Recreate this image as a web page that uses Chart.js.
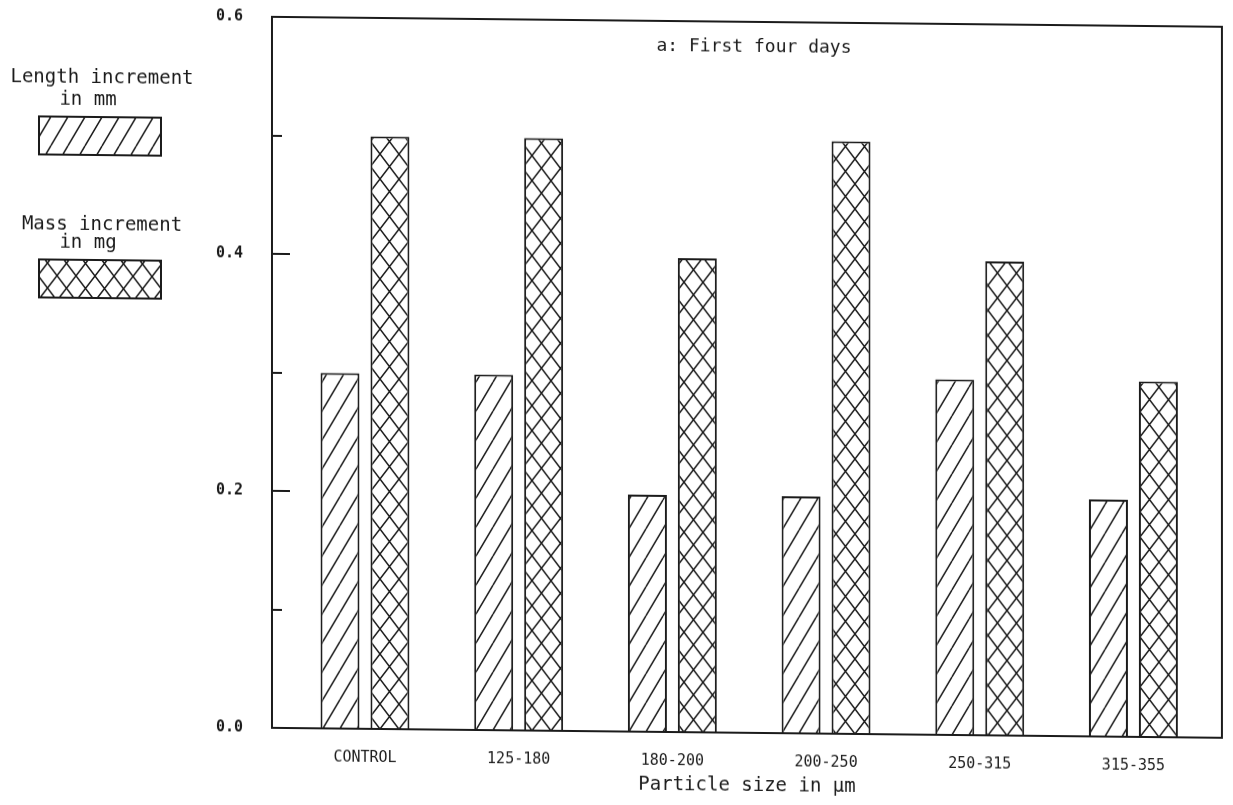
<!DOCTYPE html>
<html>
<head>
<meta charset="utf-8">
<title>Particle size</title>
<script src="https://cdn.jsdelivr.net/npm/chart.js@4.4.1/dist/chart.umd.min.js"></script>
<style>
  html, body { margin: 0; padding: 0; background: #fff; overflow: hidden; }
  /* the printed figure runs slightly downhill to the right */
  #wrap { position: relative; width: 1233px; height: 805px; transform: skewY(0.6deg); transform-origin: 0 0; }
</style>
</head>
<body>
<div id="wrap"><canvas id="chart"></canvas></div>
<script>
// data
const categories = ['CONTROL', '125-180', '180-200', '200-250', '250-315', '315-355'];
const lengthIncrement = [0.3, 0.3, 0.2, 0.2, 0.3, 0.2];   // mm
const massIncrement   = [0.5, 0.5, 0.4, 0.5, 0.4, 0.3];   // mg
const lengthLegend = ['Length increment', 'in mm'];
const massLegend   = ['Mass increment', 'in mg'];
const yMajorTicks  = [0.0, 0.2, 0.4, 0.6];
const chartTitle   = 'a: First four days';
const xTitle       = 'Particle size in \u00b5m';

const INK = '#1b1b1b';
const MONO = '"DejaVu Sans Mono", "Liberation Mono", monospace';

// hatch tiles: single diagonal for length, diamond cross-hatch for mass
function hatch(w, h, cross) {
  const c = document.createElement('canvas');
  c.width = w; c.height = h;
  const g = c.getContext('2d');
  g.fillStyle = '#fff';
  g.fillRect(0, 0, w, h);
  g.strokeStyle = INK;
  g.lineWidth = 1.5;
  g.beginPath();
  for (const dx of [-w, 0, w]) {
    g.moveTo(dx, h); g.lineTo(dx + w, 0);
    if (cross) { g.moveTo(dx, 0); g.lineTo(dx + w, h); }
  }
  g.stroke();
  return g.createPattern(c, 'repeat');
}
const singleHatch = hatch(17, 29, false);
const crossHatch = hatch(19, 25, true);

const isMajor = v => yMajorTicks.some(m => Math.abs(m - v) < 1e-6);

// closed frame plus short inward ticks on the value axis
const framePlugin = {
  id: 'frame',
  afterDatasetsDraw(chart) {
    const { ctx, chartArea: a, scales: { y } } = chart;
    ctx.save();
    ctx.strokeStyle = INK;
    ctx.lineWidth = 2;
    ctx.strokeRect(a.left, a.top, a.right - a.left, a.bottom - a.top);
    y.ticks.forEach(t => {
      if (t.value <= 0 || t.value >= 0.6 - 1e-6) return;
      const py = Math.round(y.getPixelForValue(t.value));
      ctx.beginPath();
      ctx.moveTo(a.left, py);
      ctx.lineTo(a.left + (isMajor(t.value) ? 18 : 10), py);
      ctx.stroke();
    });
    ctx.font = '18px ' + MONO;
    ctx.fillStyle = INK;
    ctx.textAlign = 'center';
    ctx.textBaseline = 'alphabetic';
    ctx.fillText(chartTitle, (a.left + a.right) / 2 + 7, a.top + 30);
    ctx.restore();
  }
};

// legend stacked in the left margin
const sideLegend = {
  id: 'sideLegend',
  afterDraw(chart) {
    const ctx = chart.ctx;
    const rows = [{ base: [82, 104], box: 116 }, { base: [229, 247], box: 259 }];
    ctx.save();
    ctx.font = '19px ' + MONO;
    ctx.textAlign = 'center';
    ctx.textBaseline = 'alphabetic';
    chart.data.datasets.forEach((ds, i) => {
      const r = rows[i];
      ctx.fillStyle = INK;
      ctx.fillText(ds.legendLines[0], 102, r.base[0]);
      ctx.fillText(ds.legendLines[1], 88, r.base[1]);
      ctx.fillStyle = ds.backgroundColor;
      ctx.fillRect(39, r.box, 122, 38);
      ctx.strokeStyle = INK;
      ctx.lineWidth = 2;
      ctx.strokeRect(39, r.box, 122, 38);
    });
    ctx.restore();
  }
};

const toPoints = arr => arr.map((v, i) => ({ x: i, y: v }));

new Chart(document.getElementById('chart'), {
  type: 'bar',
  data: {
    datasets: [
      {
        label: lengthLegend.join(' '),
        legendLines: lengthLegend,
        data: toPoints(lengthIncrement),
        backgroundColor: singleHatch,
        borderColor: INK,
        borderWidth: 2
      },
      {
        label: massLegend.join(' '),
        legendLines: massLegend,
        data: toPoints(massIncrement),
        backgroundColor: crossHatch,
        borderColor: INK,
        borderWidth: 2
      }
    ]
  },
  options: {
    responsive: true,
    maintainAspectRatio: false,
    animation: false,
    categoryPercentage: 0.65,
    barPercentage: 0.78,
    layout: { padding: { top: 14, right: 11, left: 0, bottom: 0 } },
    plugins: {
      legend: { display: false },
      tooltip: { enabled: false },
      title: { display: false }
    },
    scales: {
      x: {
        type: 'linear',
        offset: false,
        min: -0.605,
        max: 5.576,
        grid: { display: false, drawTicks: false, offset: false },
        border: { display: false },
        afterBuildTicks: s => { s.ticks = categories.map((_, i) => ({ value: i })); },
        afterFit: s => { s.height = 80; s.paddingLeft = 0; s.paddingRight = 0; },
        ticks: {
          padding: 20,
          color: INK,
          font: { family: MONO, size: 15 },
          maxRotation: 0,
          callback: v => categories[v] ?? ''
        },
        title: {
          display: true,
          text: xTitle,
          color: INK,
          font: { family: MONO, size: 19 },
          padding: { top: 0, bottom: 16 }
        }
      },
      y: {
        min: 0,
        max: 0.6,
        grid: { display: false, drawTicks: false },
        border: { display: false },
        afterFit: s => { s.width = 272; s.paddingTop = 0; s.paddingBottom = 0; },
        ticks: {
          stepSize: 0.1,
          padding: 29,
          color: INK,
          font: { family: MONO, size: 15, weight: 'bold' },
          callback: v => isMajor(v) ? v.toFixed(1) : ''
        }
      }
    }
  },
  plugins: [framePlugin, sideLegend]
});
</script>
</body>
</html>
